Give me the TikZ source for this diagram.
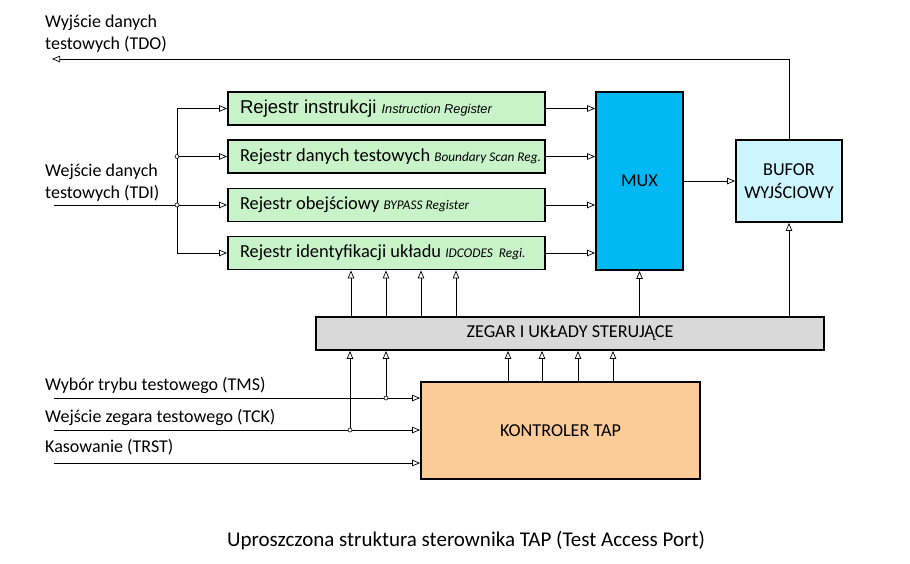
\documentclass[tikz,border=0pt]{standalone}
\usepackage{fontspec}
\setmainfont{Carlito}
\newfontfamily\arialfont{Liberation Sans}
\usetikzlibrary{arrows.meta}

\definecolor{regfill}{HTML}{C8F2C8}
\definecolor{muxfill}{HTML}{00B9F2}
\definecolor{buffill}{HTML}{CCF5FF}
\definecolor{clkfill}{HTML}{D9D9D9}
\definecolor{tapfill}{HTML}{FBCB98}

\tikzset{
  blk/.style={draw,line width=1.8pt,inner sep=0pt,align=center,
    font=\fontsize{18.2}{23}\selectfont},
  reg/.style={blk,fill=regfill,minimum width=317pt,minimum height=33pt,
    text width=317pt,align=flush left,execute at begin node={\hspace*{12pt}},
    font=\fontsize{18.4}{20}\selectfont},
  sig/.style={line width=0.7pt,-{Triangle[open,length=8pt,width=6.5pt]}},
  wire/.style={line width=0.7pt},
  lbl/.style={anchor=west,align=left,inner sep=0pt,
    font=\fontsize{18}{22}\selectfont},
  jn/.style={circle,draw,fill=white,inner sep=0pt,minimum size=4pt,line width=0.6pt}
}
\newcommand{\eng}[1]{{\fontsize{13.3}{14}\selectfont\itshape #1}}

\begin{document}
\begin{tikzpicture}[x=1pt,y=-1pt]
        \useasboundingbox (0,0) rectangle (910,564);

        \begin{scope}[every node/.style={reg}]
          \node (1) at (386.5,108.5) {\arialfont\fontsize{18.6}{20}\selectfont Rejestr instrukcji {\fontsize{12.8}{14}\selectfont\itshape Instruction Register}};
          \node (2) at (386.5,156.5) {Rejestr danych testowych \eng{Boundary Scan Reg.}};
          \node (3) at (386.5,205) {Rejestr obejściowy \eng{BYPASS Register}};
          \node (4) at (386.5,253) {Rejestr identyfikacji układu \eng{IDCODES\ \ Regi.}};
        \end{scope}

        \node[blk,fill=muxfill,minimum width=87pt,minimum height=178pt] (5) at (639.5,181) {MUX};
        \node[blk,fill=buffill,minimum width=106pt,minimum height=82pt] (6) at (789,181) {BUFOR\\WYJŚCIOWY};
        \node[blk,fill=clkfill,minimum width=508pt,minimum height=33pt] (7) at (570,333.5) {ZEGAR I UKŁADY STERUJĄCE};
        \node[blk,fill=tapfill,minimum width=279pt,minimum height=97pt] (8) at (560.5,430.5) {KONTROLER TAP};

        % signal texts
        \node[lbl] (9)  at (45,34)    {Wyjście danych\\testowych (TDO)};
        \node[lbl] (10) at (45,182.5) {Wejście danych\\testowych (TDI)};
        \node[lbl] (11) at (45,385)   {Wybór trybu testowego (TMS)};
        \node[lbl] (12) at (45,417)   {Wejście zegara testowego (TCK)};
        \node[lbl] (13) at (45,447)   {Kasowanie (TRST)};
        \node[font=\fontsize{21}{24}\selectfont] (14) at (466,541)
          {Uproszczona struktura sterownika TAP (Test Access Port)};

        \coordinate (tdo)  at (52,59);
        \coordinate (tdi)  at (54,205);
        \coordinate (bus)  at (177,205);
        \coordinate (tms)  at (54,398);
        \coordinate (tck)  at (54,430);
        \coordinate (trst) at (54,463);
        \coordinate (c1)   at (386,398);
        \coordinate (c2)   at (350,430);

        \begin{scope}[sig]
          \path (1.east) edge (1.east -| 5.west);
          \path (2.east) edge (2.east -| 5.west);
          \path (3.east) edge (3.east -| 5.west);
          \path (4.east) edge (4.east -| 5.west);
          \path (5) edge (6);
          \path (7.north -| 5.south) edge (5.south);
          \path (7.north -| 6.south) edge (6.south);
          \path (tms) edge (tms -| 8.west);
          \path (tck) edge (tck -| 8.west);
          \path (trst) edge (trst -| 8.west);
          \path (c1) edge (c1 |- 7.south);
          \path (c2) edge (c2 |- 7.south);
        \end{scope}

        \draw[sig] (6.north) |- (tdo);
        \draw[wire] (tdi) -- (bus);
        \foreach \n in {1,...,4}
          \draw[sig] (bus) |- (\n.west);
        \foreach \x in {351,386,421,456}
          \draw[sig] (\x,0 |- 7.north) -- (\x,0 |- 4.south);
        \foreach \x in {508,542,578,613}
          \draw[sig] (\x,0 |- 8.north) -- (\x,0 |- 7.south);

        \node[jn] (d1) at (bus |- 2.west) {};
        \node[jn] (d2) at (bus) {};
        \node[jn] (d3) at (c1) {};
        \node[jn] (d4) at (c2) {};

      \end{tikzpicture}
\end{document}
